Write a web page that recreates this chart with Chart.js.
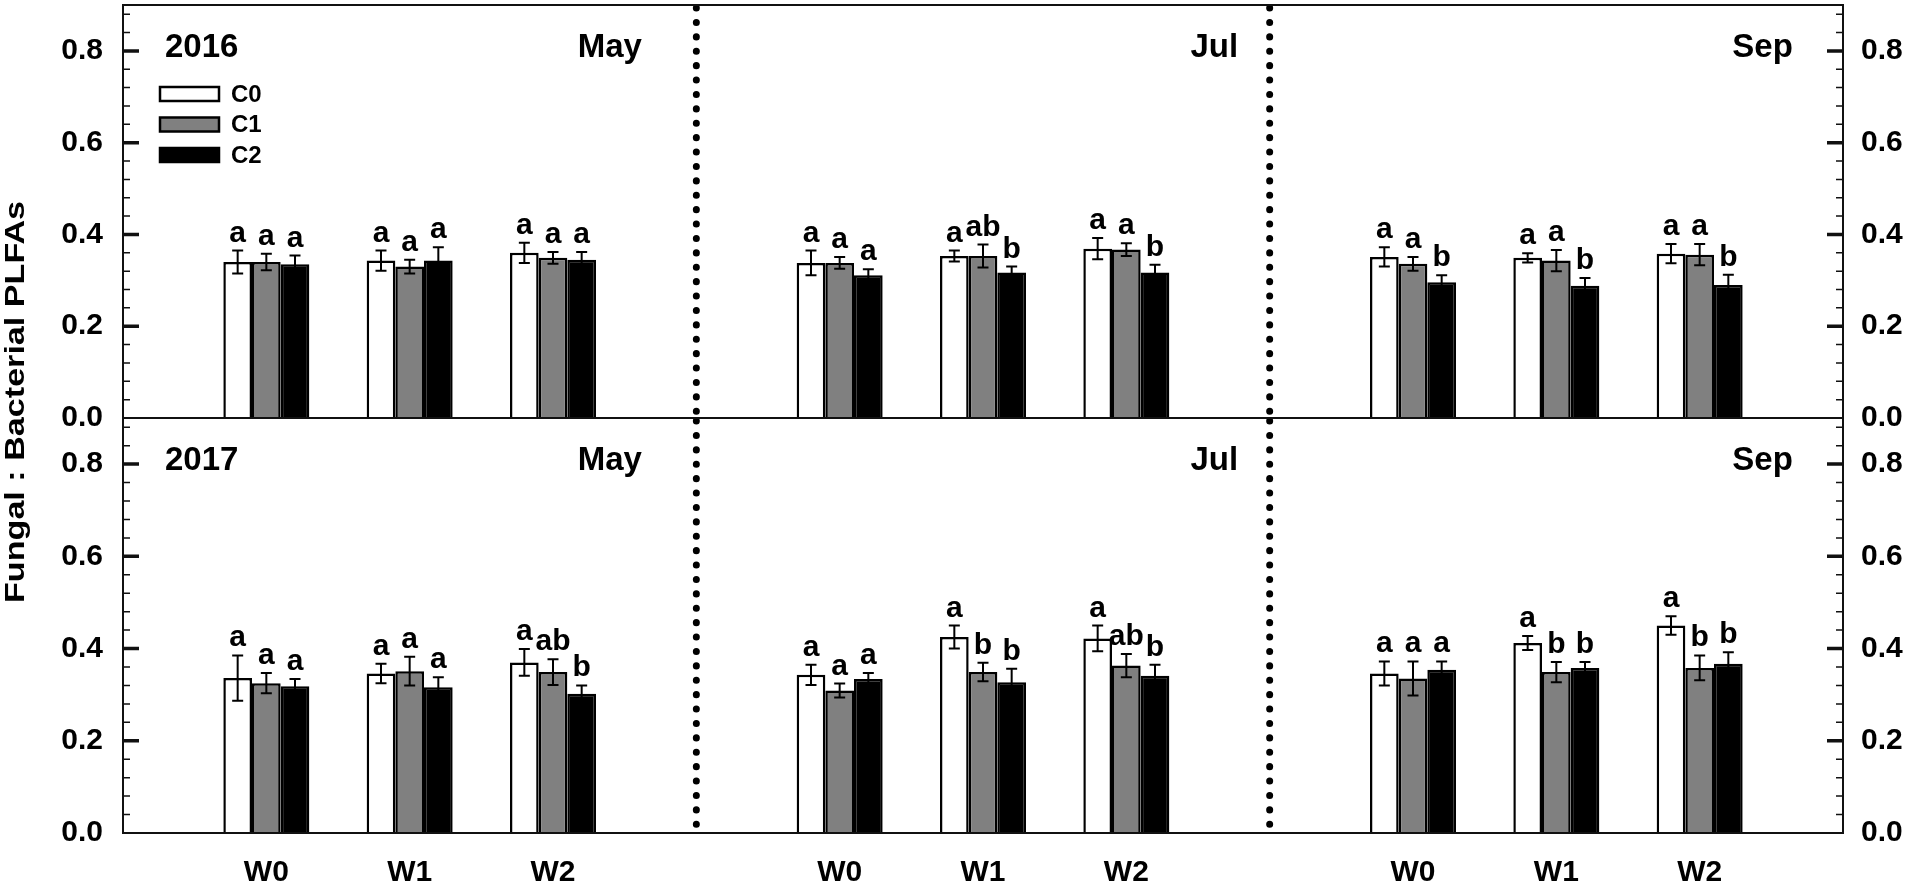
<!DOCTYPE html>
<html>
<head>
<meta charset="utf-8">
<script src="https://cdn.jsdelivr.net/npm/chart.js@4.4.1/dist/chart.umd.min.js"></script>
<style>
  html, body { margin: 0; padding: 0; background: #fff; }
  #wrap { position: relative; width: 1908px; height: 883px; }
  canvas { position: absolute; left: 0; top: 0; }
</style>
</head>
<body>
<div id="wrap">
  <canvas id="chartTop" width="1908" height="883"></canvas>
  <canvas id="chartBottom" width="1908" height="883"></canvas>
</div>
<script>
const months = ['May', 'Jul', 'Sep'];
const treatments = ['W0', 'W1', 'W2'];
const seriesNames = ['C0', 'C1', 'C2'];
const years = ['2016', '2017'];
const yTicks = [0, 0.2, 0.4, 0.6, 0.8];

// values in order May W0,W1,W2 | Jul W0,W1,W2 | Sep W0,W1,W2
const c0_2016 = [0.340, 0.343, 0.360, 0.338, 0.353, 0.369, 0.351, 0.349, 0.358];
const c1_2016 = [0.340, 0.330, 0.349, 0.338, 0.353, 0.367, 0.336, 0.343, 0.356];
const c2_2016 = [0.335, 0.343, 0.345, 0.311, 0.317, 0.317, 0.296, 0.288, 0.290];
const c0err_2016 = [0.025, 0.022, 0.022, 0.027, 0.012, 0.023, 0.021, 0.010, 0.021];
const c1err_2016 = [0.018, 0.015, 0.013, 0.013, 0.025, 0.014, 0.015, 0.023, 0.023];
const c2err_2016 = [0.019, 0.029, 0.017, 0.013, 0.013, 0.017, 0.015, 0.017, 0.022];
const c0let_2016 = ['a', 'a', 'a', 'a', 'a', 'a', 'a', 'a', 'a'];
const c1let_2016 = ['a', 'a', 'a', 'a', 'ab', 'a', 'a', 'a', 'a'];
const c2let_2016 = ['a', 'a', 'a', 'a', 'b', 'b', 'b', 'b', 'b'];

const c0_2017 = [0.336, 0.346, 0.370, 0.343, 0.425, 0.422, 0.346, 0.412, 0.450];
const c1_2017 = [0.325, 0.351, 0.349, 0.309, 0.349, 0.363, 0.335, 0.349, 0.358];
const c2_2017 = [0.318, 0.316, 0.302, 0.334, 0.327, 0.341, 0.354, 0.358, 0.367];
const c0err_2017 = [0.049, 0.021, 0.029, 0.022, 0.025, 0.028, 0.026, 0.015, 0.020];
const c1err_2017 = [0.022, 0.031, 0.028, 0.015, 0.020, 0.025, 0.037, 0.022, 0.027];
const c2err_2017 = [0.016, 0.022, 0.018, 0.013, 0.029, 0.024, 0.018, 0.013, 0.025];
const c0let_2017 = ['a', 'a', 'a', 'a', 'a', 'a', 'a', 'a', 'a'];
const c1let_2017 = ['a', 'a', 'ab', 'a', 'b', 'ab', 'a', 'b', 'b'];
const c2let_2017 = ['a', 'a', 'b', 'a', 'b', 'b', 'a', 'b', 'b'];

const barColors = ['#ffffff', '#808080', '#000000'];
const FONT = '"Liberation Sans", Arial, sans-serif';

// one empty slot at each end and between the months
function pad(arr) {
  const out = [null];
  months.forEach((m, i) => {
    treatments.forEach((t, j) => out.push(arr[i * 3 + j]));
    out.push(null);
  });
  return out;
}
const xLabels = pad(months.flatMap(() => treatments)).map(v => v == null ? '' : v);

function makeDatasets(vals, errs, lets) {
  return seriesNames.map((name, k) => ({
    label: name,
    data: pad(vals[k]),
    errors: pad(errs[k]),
    letters: pad(lets[k]),
    backgroundColor: barColors[k],
    borderColor: '#000',
    borderWidth: 2.5,
    categoryPercentage: 0.6,
    barPercentage: 1.0
  }));
}

const errorBars = {
  id: 'errorBars',
  afterDatasetsDraw(chart) {
    const ctx = chart.ctx, ys = chart.scales.y;
    chart.data.datasets.forEach((ds, i) => {
      chart.getDatasetMeta(i).data.forEach((bar, j) => {
        const v = ds.data[j];
        if (v == null) return;
        const e = ds.errors[j];
        const x = bar.x;
        const yHi = ys.getPixelForValue(v + e), yLo = ys.getPixelForValue(v - e);
        ctx.save();
        ctx.strokeStyle = '#000';
        ctx.lineWidth = 2;
        ctx.beginPath();
        ctx.moveTo(x, yHi); ctx.lineTo(x, yLo);
        ctx.moveTo(x - 5.5, yHi); ctx.lineTo(x + 5.5, yHi);
        ctx.moveTo(x - 5.5, yLo); ctx.lineTo(x + 5.5, yLo);
        ctx.stroke();
        ctx.fillStyle = '#000';
        ctx.font = 'bold 30px ' + FONT;
        ctx.textAlign = 'center';
        ctx.textBaseline = 'alphabetic';
        ctx.fillText(ds.letters[j], x, yHi - 9);
        ctx.restore();
      });
    });
  }
};

const frame = {
  id: 'frame',
  afterDraw(chart, args, opts) {
    const ctx = chart.ctx, a = chart.chartArea, ys = chart.scales.y, xs = chart.scales.x;
    ctx.save();
    // dotted month separators
    ctx.strokeStyle = '#000';
    ctx.lineWidth = 7;
    ctx.lineCap = 'round';
    ctx.setLineDash([0.1, 14.3]);
    [4, 8].forEach(ix => {
      const px = xs.getPixelForValue(ix);
      ctx.beginPath();
      ctx.moveTo(px, a.top + 3);
      ctx.lineTo(px, a.bottom);
      ctx.stroke();
    });
    ctx.setLineDash([]);
    ctx.lineCap = 'butt';
    // box
    ctx.lineWidth = 2;
    ctx.strokeStyle = '#111';
    ctx.strokeRect(a.left, a.top, a.right - a.left, a.bottom - a.top);
    // inward ticks on both sides
    for (let v = 0.04; v < 0.9; v += 0.04) {
      const py = ys.getPixelForValue(v);
      const major = yTicks.some(t => Math.abs(t - v) < 1e-6);
      if (major) continue;
      ctx.lineWidth = 1.5;
      ctx.beginPath();
      ctx.moveTo(a.left, py); ctx.lineTo(a.left + 7, py);
      ctx.moveTo(a.right, py); ctx.lineTo(a.right - 7, py);
      ctx.stroke();
    }
    yTicks.forEach(v => {
      if (v === 0) return;
      const py = ys.getPixelForValue(v);
      ctx.lineWidth = 3.5;
      ctx.beginPath();
      ctx.moveTo(a.left, py); ctx.lineTo(a.left + 16, py);
      ctx.moveTo(a.right, py); ctx.lineTo(a.right - 16, py);
      ctx.stroke();
    });
    // panel texts
    ctx.fillStyle = '#000';
    ctx.font = 'bold 33px ' + FONT;
    ctx.textBaseline = 'alphabetic';
    ctx.textAlign = 'left';
    ctx.fillText(opts.year, 165, a.top + 52);
    ctx.textAlign = 'right';
    const monthRight = [3.62, 7.78, 11.65];
    months.forEach((m, i) => ctx.fillText(m, xs.getPixelForValue(monthRight[i]), a.top + 52));
    // legend
    if (opts.legend) {
      ctx.textAlign = 'left';
      ctx.textBaseline = 'middle';
      ctx.font = 'bold 24px ' + FONT;
      seriesNames.forEach((name, k) => {
        const by = 87 + k * 30.5;
        ctx.fillStyle = barColors[k];
        ctx.fillRect(160, by, 59, 14);
        ctx.lineWidth = 2.5;
        ctx.strokeStyle = '#000';
        ctx.strokeRect(160, by, 59, 14);
        ctx.fillStyle = '#000';
        ctx.fillText(name, 231, by + 8);
      });
    }
    // shared y title
    if (opts.title) {
      const text = 'Fungal : Bacterial PLFAs';
      ctx.font = 'bold 27px ' + FONT;
      const w = ctx.measureText(text).width;
      ctx.translate(17, 402);
      ctx.rotate(-Math.PI / 2);
      ctx.scale(402 / w, 1);
      ctx.textAlign = 'center';
      ctx.textBaseline = 'middle';
      ctx.fillText(text, 0, 0);
    }
    ctx.restore();
  }
};

function yAxis(position, pad) {
  return {
    position: position,
    min: 0,
    max: 0.9,
    afterBuildTicks: s => { s.ticks = yTicks.map(v => ({ value: v })); },
    afterFit: s => {
      s.width = position === 'left' ? 123 : 65;
      s.paddingTop = 0; s.paddingBottom = 0;
    },
    grid: { display: false, drawTicks: false },
    border: { display: false },
    ticks: {
      padding: pad,
      color: '#000',
      font: { family: FONT, size: 30, weight: 'bold' },
      callback: v => Number(v).toFixed(1)
    }
  };
}

function makeChart(id, yearIdx, vals, errs, lets, padding, showX) {
  return new Chart(document.getElementById(id), {
    type: 'bar',
    data: { labels: xLabels, datasets: makeDatasets(vals, errs, lets) },
    plugins: [errorBars, frame],
    options: {
      responsive: false,
      animation: false,
      devicePixelRatio: 1,
      layout: { padding: padding },
      plugins: {
        legend: { display: false },
        tooltip: { enabled: false },
        frame: { year: years[yearIdx], legend: yearIdx === 0, title: yearIdx === 1 }
      },
      scales: {
        x: {
          display: showX,
          offset: false,
          afterFit: s => {
            s.height = showX ? 50 : 0;
            s.paddingLeft = 0; s.paddingRight = 0;
          },
          grid: { display: false, drawTicks: false },
          border: { display: false },
          ticks: {
            padding: 22,
            color: '#000',
            autoSkip: false,
            maxRotation: 0,
            font: { family: FONT, size: 30, weight: 'bold' }
          }
        },
        y: yAxis('left', 20),
        y2: yAxis('right', 18)
      }
    }
  });
}

makeChart('chartTop', 0,
  [c0_2016, c1_2016, c2_2016], [c0err_2016, c1err_2016, c2err_2016], [c0let_2016, c1let_2016, c2let_2016],
  { top: 5, bottom: 465, left: 0, right: 0 }, false);
makeChart('chartBottom', 1,
  [c0_2017, c1_2017, c2_2017], [c0err_2017, c1err_2017, c2err_2017], [c0let_2017, c1let_2017, c2let_2017],
  { top: 418, bottom: 0, left: 0, right: 0 }, true);
</script>
</body>
</html>
